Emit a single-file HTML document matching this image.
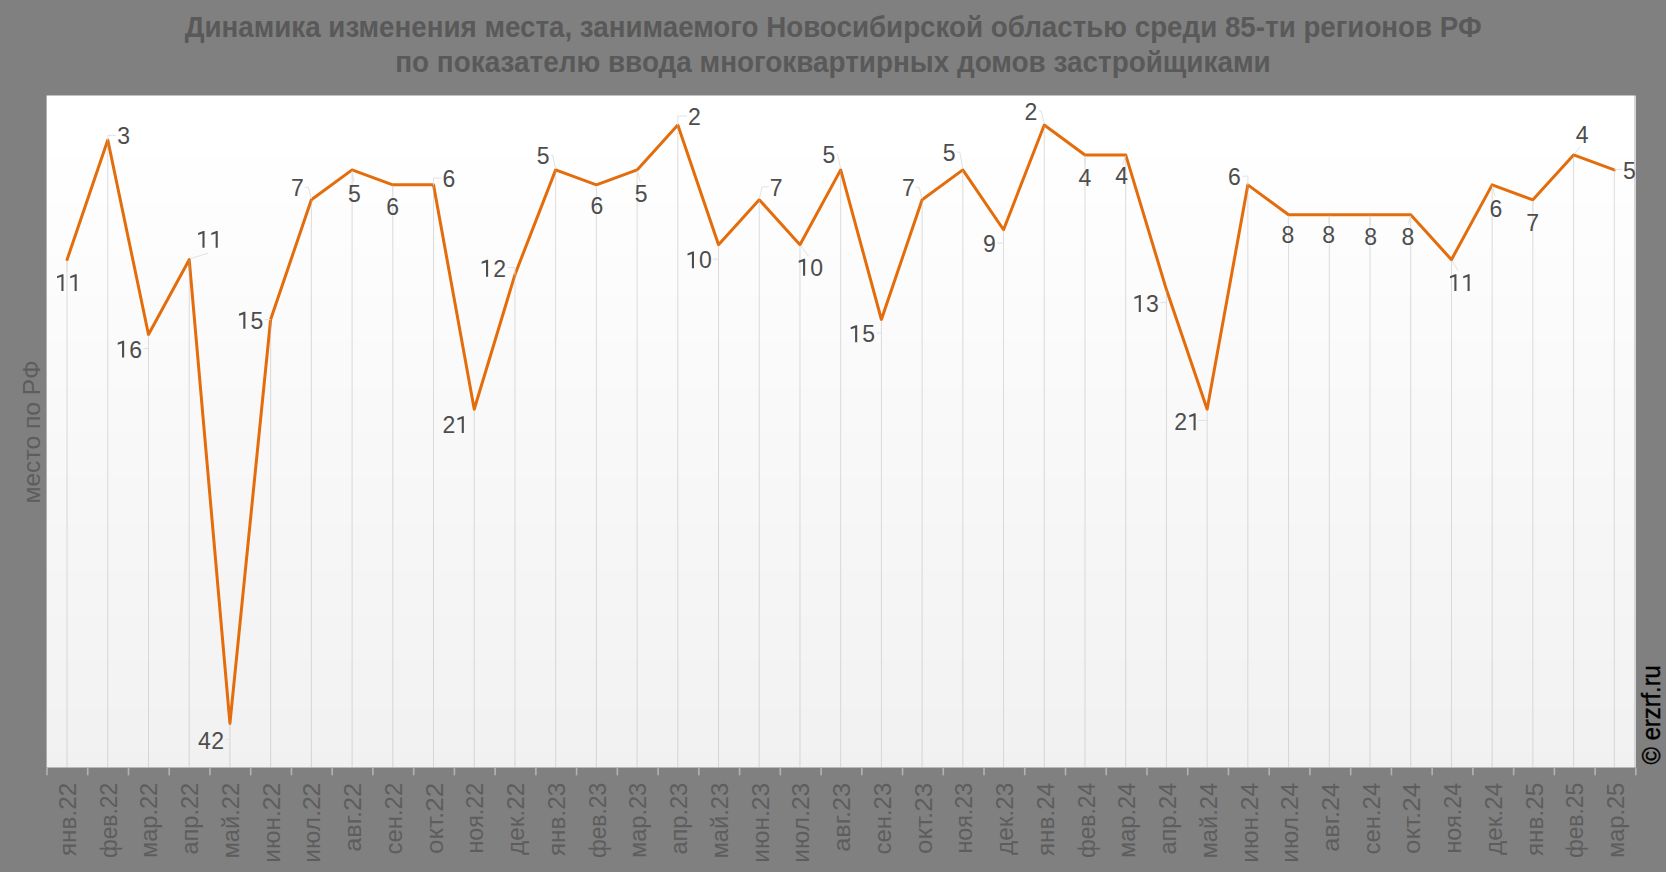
<!DOCTYPE html>
<html><head><meta charset="utf-8"><title>chart</title>
<style>
html,body{margin:0;padding:0;background:#808080;width:1666px;height:872px;overflow:hidden}
svg{display:block}
text{font-family:"Liberation Sans",sans-serif}
</style></head><body>
<svg width="1666" height="872" viewBox="0 0 1666 872">
<rect x="0" y="0" width="1666" height="872" fill="#808080"/>

<text x="833.2" y="37.1" font-size="28.8" font-weight="bold" fill="#595959" text-anchor="middle" textLength="1297" lengthAdjust="spacingAndGlyphs">Динамика изменения места, занимаемого Новосибирской областью среди 85-ти регионов РФ</text>
<text x="833.0" y="71.9" font-size="28.8" font-weight="bold" fill="#595959" text-anchor="middle" textLength="875.5" lengthAdjust="spacingAndGlyphs">по показателю ввода многоквартирных домов застройщиками</text>
<rect x="46.6" y="95.5" width="1587.40" height="61.5" fill="rgb(255,255,255)"/>
<rect x="46.6" y="157" width="1587.40" height="46" fill="rgb(254,254,254)"/>
<rect x="46.6" y="203" width="1587.40" height="46" fill="rgb(253,253,253)"/>
<rect x="46.6" y="249" width="1587.40" height="46" fill="rgb(252,252,252)"/>
<rect x="46.6" y="295" width="1587.40" height="46" fill="rgb(251,251,251)"/>
<rect x="46.6" y="341" width="1587.40" height="45" fill="rgb(250,250,250)"/>
<rect x="46.6" y="386" width="1587.40" height="46" fill="rgb(249,249,249)"/>
<rect x="46.6" y="432" width="1587.40" height="46" fill="rgb(248,248,248)"/>
<rect x="46.6" y="478" width="1587.40" height="46" fill="rgb(247,247,247)"/>
<rect x="46.6" y="524" width="1587.40" height="46" fill="rgb(246,246,246)"/>
<rect x="46.6" y="570" width="1587.40" height="45" fill="rgb(245,245,245)"/>
<rect x="46.6" y="615" width="1587.40" height="46" fill="rgb(244,244,244)"/>
<rect x="46.6" y="661" width="1587.40" height="46" fill="rgb(243,243,243)"/>
<rect x="46.6" y="707" width="1587.40" height="46" fill="rgb(242,242,242)"/>
<rect x="46.6" y="753" width="1587.40" height="14.5" fill="rgb(241,241,241)"/>
<rect x="1634.0" y="95.5" width="2" height="672.00" fill="#d6d6d6"/>
<polyline points="67.06,259.66 107.78,139.98 148.49,334.46 189.21,259.66 229.93,723.42 270.64,319.50 311.36,199.82 352.08,169.90 392.79,184.86 433.51,184.86 474.23,409.26 514.95,274.62 555.66,169.90 596.38,184.86 637.10,169.90 677.81,125.02 718.53,244.70 759.25,199.82 799.96,244.70 840.68,169.90 881.40,319.50 922.12,199.82 962.83,169.90 1003.55,229.74 1044.27,125.02 1084.98,154.94 1125.70,154.94 1166.42,289.58 1207.13,409.26 1247.85,184.86 1288.57,214.78 1329.29,214.78 1370.00,214.78 1410.72,214.78 1451.44,259.66 1492.15,184.86 1532.87,199.82 1573.59,154.94 1614.30,169.90" fill="none" stroke="#e46c0a" stroke-width="3" stroke-linejoin="round" stroke-linecap="round"/>
<line x1="67.06" y1="259.7" x2="67.06" y2="767.5" stroke="#b4b4b4" stroke-opacity="0.46" stroke-width="1"/>
<line x1="107.78" y1="140.0" x2="107.78" y2="767.5" stroke="#b4b4b4" stroke-opacity="0.46" stroke-width="1"/>
<line x1="148.49" y1="334.5" x2="148.49" y2="767.5" stroke="#b4b4b4" stroke-opacity="0.46" stroke-width="1"/>
<line x1="189.21" y1="259.7" x2="189.21" y2="767.5" stroke="#b4b4b4" stroke-opacity="0.46" stroke-width="1"/>
<line x1="229.93" y1="723.4" x2="229.93" y2="767.5" stroke="#b4b4b4" stroke-opacity="0.46" stroke-width="1"/>
<line x1="270.64" y1="319.5" x2="270.64" y2="767.5" stroke="#b4b4b4" stroke-opacity="0.46" stroke-width="1"/>
<line x1="311.36" y1="199.8" x2="311.36" y2="767.5" stroke="#b4b4b4" stroke-opacity="0.46" stroke-width="1"/>
<line x1="352.08" y1="169.9" x2="352.08" y2="767.5" stroke="#b4b4b4" stroke-opacity="0.46" stroke-width="1"/>
<line x1="392.79" y1="184.9" x2="392.79" y2="767.5" stroke="#b4b4b4" stroke-opacity="0.46" stroke-width="1"/>
<line x1="433.51" y1="184.9" x2="433.51" y2="767.5" stroke="#b4b4b4" stroke-opacity="0.46" stroke-width="1"/>
<line x1="474.23" y1="409.3" x2="474.23" y2="767.5" stroke="#b4b4b4" stroke-opacity="0.46" stroke-width="1"/>
<line x1="514.95" y1="274.6" x2="514.95" y2="767.5" stroke="#b4b4b4" stroke-opacity="0.46" stroke-width="1"/>
<line x1="555.66" y1="169.9" x2="555.66" y2="767.5" stroke="#b4b4b4" stroke-opacity="0.46" stroke-width="1"/>
<line x1="596.38" y1="184.9" x2="596.38" y2="767.5" stroke="#b4b4b4" stroke-opacity="0.46" stroke-width="1"/>
<line x1="637.10" y1="169.9" x2="637.10" y2="767.5" stroke="#b4b4b4" stroke-opacity="0.46" stroke-width="1"/>
<line x1="677.81" y1="125.0" x2="677.81" y2="767.5" stroke="#b4b4b4" stroke-opacity="0.46" stroke-width="1"/>
<line x1="718.53" y1="244.7" x2="718.53" y2="767.5" stroke="#b4b4b4" stroke-opacity="0.46" stroke-width="1"/>
<line x1="759.25" y1="199.8" x2="759.25" y2="767.5" stroke="#b4b4b4" stroke-opacity="0.46" stroke-width="1"/>
<line x1="799.96" y1="244.7" x2="799.96" y2="767.5" stroke="#b4b4b4" stroke-opacity="0.46" stroke-width="1"/>
<line x1="840.68" y1="169.9" x2="840.68" y2="767.5" stroke="#b4b4b4" stroke-opacity="0.46" stroke-width="1"/>
<line x1="881.40" y1="319.5" x2="881.40" y2="767.5" stroke="#b4b4b4" stroke-opacity="0.46" stroke-width="1"/>
<line x1="922.12" y1="199.8" x2="922.12" y2="767.5" stroke="#b4b4b4" stroke-opacity="0.46" stroke-width="1"/>
<line x1="962.83" y1="169.9" x2="962.83" y2="767.5" stroke="#b4b4b4" stroke-opacity="0.46" stroke-width="1"/>
<line x1="1003.55" y1="229.7" x2="1003.55" y2="767.5" stroke="#b4b4b4" stroke-opacity="0.46" stroke-width="1"/>
<line x1="1044.27" y1="125.0" x2="1044.27" y2="767.5" stroke="#b4b4b4" stroke-opacity="0.46" stroke-width="1"/>
<line x1="1084.98" y1="154.9" x2="1084.98" y2="767.5" stroke="#b4b4b4" stroke-opacity="0.46" stroke-width="1"/>
<line x1="1125.70" y1="154.9" x2="1125.70" y2="767.5" stroke="#b4b4b4" stroke-opacity="0.46" stroke-width="1"/>
<line x1="1166.42" y1="289.6" x2="1166.42" y2="767.5" stroke="#b4b4b4" stroke-opacity="0.46" stroke-width="1"/>
<line x1="1207.13" y1="409.3" x2="1207.13" y2="767.5" stroke="#b4b4b4" stroke-opacity="0.46" stroke-width="1"/>
<line x1="1247.85" y1="184.9" x2="1247.85" y2="767.5" stroke="#b4b4b4" stroke-opacity="0.46" stroke-width="1"/>
<line x1="1288.57" y1="214.8" x2="1288.57" y2="767.5" stroke="#b4b4b4" stroke-opacity="0.46" stroke-width="1"/>
<line x1="1329.29" y1="214.8" x2="1329.29" y2="767.5" stroke="#b4b4b4" stroke-opacity="0.46" stroke-width="1"/>
<line x1="1370.00" y1="214.8" x2="1370.00" y2="767.5" stroke="#b4b4b4" stroke-opacity="0.46" stroke-width="1"/>
<line x1="1410.72" y1="214.8" x2="1410.72" y2="767.5" stroke="#b4b4b4" stroke-opacity="0.46" stroke-width="1"/>
<line x1="1451.44" y1="259.7" x2="1451.44" y2="767.5" stroke="#b4b4b4" stroke-opacity="0.46" stroke-width="1"/>
<line x1="1492.15" y1="184.9" x2="1492.15" y2="767.5" stroke="#b4b4b4" stroke-opacity="0.46" stroke-width="1"/>
<line x1="1532.87" y1="199.8" x2="1532.87" y2="767.5" stroke="#b4b4b4" stroke-opacity="0.46" stroke-width="1"/>
<line x1="1573.59" y1="154.9" x2="1573.59" y2="767.5" stroke="#b4b4b4" stroke-opacity="0.46" stroke-width="1"/>
<line x1="1614.30" y1="169.9" x2="1614.30" y2="767.5" stroke="#b4b4b4" stroke-opacity="0.46" stroke-width="1"/>
<rect x="46.20" y="767.5" width="1.6" height="7.8" fill="#b2b2b2"/>
<rect x="86.94" y="767.5" width="1.6" height="7.8" fill="#b2b2b2"/>
<rect x="127.68" y="767.5" width="1.6" height="7.8" fill="#b2b2b2"/>
<rect x="168.42" y="767.5" width="1.6" height="7.8" fill="#b2b2b2"/>
<rect x="209.16" y="767.5" width="1.6" height="7.8" fill="#b2b2b2"/>
<rect x="249.90" y="767.5" width="1.6" height="7.8" fill="#b2b2b2"/>
<rect x="290.64" y="767.5" width="1.6" height="7.8" fill="#b2b2b2"/>
<rect x="331.38" y="767.5" width="1.6" height="7.8" fill="#b2b2b2"/>
<rect x="372.12" y="767.5" width="1.6" height="7.8" fill="#b2b2b2"/>
<rect x="412.86" y="767.5" width="1.6" height="7.8" fill="#b2b2b2"/>
<rect x="453.60" y="767.5" width="1.6" height="7.8" fill="#b2b2b2"/>
<rect x="494.34" y="767.5" width="1.6" height="7.8" fill="#b2b2b2"/>
<rect x="535.08" y="767.5" width="1.6" height="7.8" fill="#b2b2b2"/>
<rect x="575.82" y="767.5" width="1.6" height="7.8" fill="#b2b2b2"/>
<rect x="616.56" y="767.5" width="1.6" height="7.8" fill="#b2b2b2"/>
<rect x="657.30" y="767.5" width="1.6" height="7.8" fill="#b2b2b2"/>
<rect x="698.04" y="767.5" width="1.6" height="7.8" fill="#b2b2b2"/>
<rect x="738.78" y="767.5" width="1.6" height="7.8" fill="#b2b2b2"/>
<rect x="779.52" y="767.5" width="1.6" height="7.8" fill="#b2b2b2"/>
<rect x="820.26" y="767.5" width="1.6" height="7.8" fill="#b2b2b2"/>
<rect x="861.00" y="767.5" width="1.6" height="7.8" fill="#b2b2b2"/>
<rect x="901.74" y="767.5" width="1.6" height="7.8" fill="#b2b2b2"/>
<rect x="942.48" y="767.5" width="1.6" height="7.8" fill="#b2b2b2"/>
<rect x="983.22" y="767.5" width="1.6" height="7.8" fill="#b2b2b2"/>
<rect x="1023.96" y="767.5" width="1.6" height="7.8" fill="#b2b2b2"/>
<rect x="1064.70" y="767.5" width="1.6" height="7.8" fill="#b2b2b2"/>
<rect x="1105.44" y="767.5" width="1.6" height="7.8" fill="#b2b2b2"/>
<rect x="1146.18" y="767.5" width="1.6" height="7.8" fill="#b2b2b2"/>
<rect x="1186.92" y="767.5" width="1.6" height="7.8" fill="#b2b2b2"/>
<rect x="1227.66" y="767.5" width="1.6" height="7.8" fill="#b2b2b2"/>
<rect x="1268.40" y="767.5" width="1.6" height="7.8" fill="#b2b2b2"/>
<rect x="1309.14" y="767.5" width="1.6" height="7.8" fill="#b2b2b2"/>
<rect x="1349.88" y="767.5" width="1.6" height="7.8" fill="#b2b2b2"/>
<rect x="1390.62" y="767.5" width="1.6" height="7.8" fill="#b2b2b2"/>
<rect x="1431.36" y="767.5" width="1.6" height="7.8" fill="#b2b2b2"/>
<rect x="1472.10" y="767.5" width="1.6" height="7.8" fill="#b2b2b2"/>
<rect x="1512.84" y="767.5" width="1.6" height="7.8" fill="#b2b2b2"/>
<rect x="1553.58" y="767.5" width="1.6" height="7.8" fill="#b2b2b2"/>
<rect x="1594.32" y="767.5" width="1.6" height="7.8" fill="#b2b2b2"/>
<rect x="1635.06" y="767.5" width="1.6" height="7.8" fill="#b2b2b2"/>
<line x1="67.0" y1="261.2" x2="66.9" y2="270.5" stroke="#e2e2e2" stroke-width="1"/>
<line x1="107.8" y1="135.3" x2="115.8" y2="135.3" stroke="#e2e2e2" stroke-width="1"/>
<line x1="107.8" y1="140.0" x2="107.8" y2="135.3" stroke="#e2e2e2" stroke-width="1"/>
<line x1="148.5" y1="348.5" x2="143.7" y2="348.5" stroke="#e2e2e2" stroke-width="1"/>
<line x1="190.2" y1="258.7" x2="208" y2="253.2" stroke="#e2e2e2" stroke-width="1"/>
<line x1="229.9" y1="739.5" x2="225.7" y2="739.5" stroke="#e2e2e2" stroke-width="1"/>
<line x1="270.6" y1="319.6" x2="264.8" y2="319.6" stroke="#e2e2e2" stroke-width="1"/>
<polyline points="311.4,198.8 308.4,187.3 304.9,187.3" fill="none" stroke="#e2e2e2" stroke-width="1"/>
<line x1="352.3" y1="171.4" x2="353.9" y2="182.2" stroke="#e2e2e2" stroke-width="1"/>
<line x1="392.8" y1="186.4" x2="392.7" y2="195.1" stroke="#e2e2e2" stroke-width="1"/>
<line x1="433.5" y1="178.0" x2="441.4" y2="178.0" stroke="#e2e2e2" stroke-width="1"/>
<line x1="433.5" y1="184.9" x2="433.5" y2="178.0" stroke="#e2e2e2" stroke-width="1"/>
<line x1="514.9" y1="267.6" x2="507.5" y2="267.6" stroke="#e2e2e2" stroke-width="1"/>
<line x1="514.9" y1="274.6" x2="514.9" y2="267.6" stroke="#e2e2e2" stroke-width="1"/>
<polyline points="555.7,168.9 552.7,155.2 550.9,155.2" fill="none" stroke="#e2e2e2" stroke-width="1"/>
<line x1="596.4" y1="186.4" x2="596.8" y2="193.1" stroke="#e2e2e2" stroke-width="1"/>
<line x1="637.5" y1="171.3" x2="640.3" y2="181.9" stroke="#e2e2e2" stroke-width="1"/>
<line x1="677.8" y1="116.0" x2="686.9" y2="116.0" stroke="#e2e2e2" stroke-width="1"/>
<line x1="677.8" y1="125.0" x2="677.8" y2="116.0" stroke="#e2e2e2" stroke-width="1"/>
<line x1="718.5" y1="259.2" x2="712.9" y2="259.2" stroke="#e2e2e2" stroke-width="1"/>
<polyline points="759.2,198.8 762.2,186.9 768.8,186.9" fill="none" stroke="#e2e2e2" stroke-width="1"/>
<line x1="800.9" y1="245.9" x2="808.7" y2="256.3" stroke="#e2e2e2" stroke-width="1"/>
<polyline points="840.7,168.9 837.7,154.5 836.5,154.5" fill="none" stroke="#e2e2e2" stroke-width="1"/>
<line x1="881.4" y1="333.1" x2="876.6" y2="333.1" stroke="#e2e2e2" stroke-width="1"/>
<polyline points="922.1,198.8 919.1,187.3 915.8,187.3" fill="none" stroke="#e2e2e2" stroke-width="1"/>
<polyline points="962.8,168.9 959.8,152.2 956.9,152.2" fill="none" stroke="#e2e2e2" stroke-width="1"/>
<line x1="1003.5" y1="243.1" x2="997.0" y2="243.1" stroke="#e2e2e2" stroke-width="1"/>
<polyline points="1044.3,124.0 1041.3,111.0 1038.8,111.0" fill="none" stroke="#e2e2e2" stroke-width="1"/>
<line x1="1085.0" y1="156.4" x2="1085.0" y2="165.8" stroke="#e2e2e2" stroke-width="1"/>
<line x1="1125.3" y1="156.4" x2="1122.6" y2="165.0" stroke="#e2e2e2" stroke-width="1"/>
<line x1="1166.4" y1="302.6" x2="1160.2" y2="302.6" stroke="#e2e2e2" stroke-width="1"/>
<line x1="1207.1" y1="420.5" x2="1198.3" y2="420.5" stroke="#e2e2e2" stroke-width="1"/>
<line x1="1247.9" y1="176.2" x2="1242.4" y2="176.2" stroke="#e2e2e2" stroke-width="1"/>
<line x1="1247.9" y1="184.9" x2="1247.9" y2="176.2" stroke="#e2e2e2" stroke-width="1"/>
<line x1="1288.5" y1="216.3" x2="1288.0" y2="223.1" stroke="#e2e2e2" stroke-width="1"/>
<line x1="1329.2" y1="216.3" x2="1328.9" y2="223.1" stroke="#e2e2e2" stroke-width="1"/>
<line x1="1370.1" y1="216.3" x2="1370.4" y2="224.5" stroke="#e2e2e2" stroke-width="1"/>
<line x1="1410.4" y1="216.2" x2="1408.5" y2="224.6" stroke="#e2e2e2" stroke-width="1"/>
<line x1="1452.2" y1="260.9" x2="1458.2" y2="270.9" stroke="#e2e2e2" stroke-width="1"/>
<line x1="1492.5" y1="186.3" x2="1495.1" y2="196.6" stroke="#e2e2e2" stroke-width="1"/>
<line x1="1532.9" y1="201.3" x2="1532.7" y2="210.8" stroke="#e2e2e2" stroke-width="1"/>
<line x1="1574.5" y1="153.8" x2="1580.3" y2="146.7" stroke="#e2e2e2" stroke-width="1"/>
<line x1="1614.3" y1="169.4" x2="1622.1" y2="169.4" stroke="#e2e2e2" stroke-width="1"/>
<g font-size="23" fill="#4d4d4d">
<path d="M61.40,291.10L63.50,291.10L63.50,274.20L62.15,274.20L57.05,276.20L57.05,278.20L61.40,276.80ZM74.60,291.10L76.70,291.10L76.70,274.20L75.35,274.20L70.25,276.20L70.25,278.20L74.60,276.80Z"/>
<text x="123.70" y="144.40" text-anchor="middle">3</text>
<text x="135.60" y="357.60" text-anchor="middle">6</text><path d="M122.05,357.60L124.15,357.60L124.15,340.70L122.80,340.70L117.70,342.70L117.70,344.70L122.05,343.30Z"/>
<path d="M202.45,247.80L204.55,247.80L204.55,230.90L203.20,230.90L198.10,232.90L198.10,234.90L202.45,233.50ZM215.65,247.80L217.75,247.80L217.75,230.90L216.40,230.90L211.30,232.90L211.30,234.90L215.65,233.50Z"/>
<text x="204.45" y="749.10" text-anchor="middle">4</text><text x="217.65" y="749.10" text-anchor="middle">2</text>
<text x="256.85" y="328.70" text-anchor="middle">5</text><path d="M243.30,328.70L245.40,328.70L245.40,311.80L244.05,311.80L238.95,313.80L238.95,315.80L243.30,314.40Z"/>
<text x="297.30" y="196.40" text-anchor="middle">7</text>
<text x="354.30" y="202.20" text-anchor="middle">5</text>
<text x="392.65" y="215.10" text-anchor="middle">6</text>
<text x="448.85" y="186.80" text-anchor="middle">6</text>
<text x="448.90" y="433.10" text-anchor="middle">2</text><path d="M461.75,433.10L463.85,433.10L463.85,416.20L462.50,416.20L457.40,418.20L457.40,420.20L461.75,418.80Z"/>
<text x="499.55" y="276.70" text-anchor="middle">2</text><path d="M486.00,276.70L488.10,276.70L488.10,259.80L486.75,259.80L481.65,261.80L481.65,263.80L486.00,262.40Z"/>
<text x="543.25" y="164.30" text-anchor="middle">5</text>
<text x="596.90" y="213.70" text-anchor="middle">6</text>
<text x="641.10" y="201.90" text-anchor="middle">5</text>
<text x="694.35" y="124.80" text-anchor="middle">2</text>
<text x="705.45" y="268.30" text-anchor="middle">0</text><path d="M691.90,268.30L694.00,268.30L694.00,251.40L692.65,251.40L687.55,253.40L687.55,255.40L691.90,254.00Z"/>
<text x="776.25" y="196.10" text-anchor="middle">7</text>
<text x="816.60" y="275.70" text-anchor="middle">0</text><path d="M803.05,275.70L805.15,275.70L805.15,258.80L803.80,258.80L798.70,260.80L798.70,262.80L803.05,261.40Z"/>
<text x="828.85" y="163.30" text-anchor="middle">5</text>
<text x="868.65" y="342.20" text-anchor="middle">5</text><path d="M855.10,342.20L857.20,342.20L857.20,325.30L855.85,325.30L850.75,327.30L850.75,329.30L855.10,327.90Z"/>
<text x="908.35" y="196.10" text-anchor="middle">7</text>
<text x="949.25" y="161.40" text-anchor="middle">5</text>
<text x="989.40" y="252.30" text-anchor="middle">9</text>
<text x="1030.85" y="119.60" text-anchor="middle">2</text>
<text x="1084.95" y="185.80" text-anchor="middle">4</text>
<text x="1121.70" y="184.40" text-anchor="middle">4</text>
<text x="1152.30" y="311.90" text-anchor="middle">3</text><path d="M1138.75,311.90L1140.85,311.90L1140.85,295.00L1139.50,295.00L1134.40,297.00L1134.40,299.00L1138.75,297.60Z"/>
<text x="1180.70" y="430.20" text-anchor="middle">2</text><path d="M1193.55,430.20L1195.65,430.20L1195.65,413.30L1194.30,413.30L1189.20,415.30L1189.20,417.30L1193.55,415.90Z"/>
<text x="1234.40" y="185.10" text-anchor="middle">6</text>
<text x="1287.80" y="243.30" text-anchor="middle">8</text>
<text x="1328.70" y="243.30" text-anchor="middle">8</text>
<text x="1370.55" y="244.80" text-anchor="middle">8</text>
<text x="1407.90" y="244.80" text-anchor="middle">8</text>
<path d="M1454.35,291.10L1456.45,291.10L1456.45,274.20L1455.10,274.20L1450.00,276.20L1450.00,278.20L1454.35,276.80ZM1467.55,291.10L1469.65,291.10L1469.65,274.20L1468.30,274.20L1463.20,276.20L1463.20,278.20L1467.55,276.80Z"/>
<text x="1495.80" y="216.70" text-anchor="middle">6</text>
<text x="1532.70" y="231.10" text-anchor="middle">7</text>
<text x="1582.15" y="143.00" text-anchor="middle">4</text>
<text x="1629.40" y="178.80" text-anchor="middle">5</text>
</g>
<text transform="translate(75.90,782.8) rotate(-90)" font-size="23.3" fill="#5d5d5d" text-anchor="end" textLength="73.3" lengthAdjust="spacingAndGlyphs">янв.22</text>
<text transform="translate(116.65,782.8) rotate(-90)" font-size="23.3" fill="#5d5d5d" text-anchor="end" textLength="75.3" lengthAdjust="spacingAndGlyphs">фев.22</text>
<text transform="translate(157.39,782.8) rotate(-90)" font-size="23.3" fill="#5d5d5d" text-anchor="end" textLength="75.3" lengthAdjust="spacingAndGlyphs">мар.22</text>
<text transform="translate(198.13,782.8) rotate(-90)" font-size="23.3" fill="#5d5d5d" text-anchor="end" textLength="71.8" lengthAdjust="spacingAndGlyphs">апр.22</text>
<text transform="translate(238.88,782.8) rotate(-90)" font-size="23.3" fill="#5d5d5d" text-anchor="end" textLength="75.8" lengthAdjust="spacingAndGlyphs">май.22</text>
<text transform="translate(279.62,782.8) rotate(-90)" font-size="23.3" fill="#5d5d5d" text-anchor="end" textLength="79.9" lengthAdjust="spacingAndGlyphs">июн.22</text>
<text transform="translate(320.37,782.8) rotate(-90)" font-size="23.3" fill="#5d5d5d" text-anchor="end" textLength="79.9" lengthAdjust="spacingAndGlyphs">июл.22</text>
<text transform="translate(361.12,782.8) rotate(-90)" font-size="23.3" fill="#5d5d5d" text-anchor="end" textLength="69.0" lengthAdjust="spacingAndGlyphs">авг.22</text>
<text transform="translate(401.86,782.8) rotate(-90)" font-size="23.3" fill="#5d5d5d" text-anchor="end" textLength="71.8" lengthAdjust="spacingAndGlyphs">сен.22</text>
<text transform="translate(442.61,782.8) rotate(-90)" font-size="23.3" fill="#5d5d5d" text-anchor="end" textLength="71.2" lengthAdjust="spacingAndGlyphs">окт.22</text>
<text transform="translate(483.35,782.8) rotate(-90)" font-size="23.3" fill="#5d5d5d" text-anchor="end" textLength="70.8" lengthAdjust="spacingAndGlyphs">ноя.22</text>
<text transform="translate(524.10,782.8) rotate(-90)" font-size="23.3" fill="#5d5d5d" text-anchor="end" textLength="72.1" lengthAdjust="spacingAndGlyphs">дек.22</text>
<text transform="translate(564.84,782.8) rotate(-90)" font-size="23.3" fill="#5d5d5d" text-anchor="end" textLength="73.3" lengthAdjust="spacingAndGlyphs">янв.23</text>
<text transform="translate(605.58,782.8) rotate(-90)" font-size="23.3" fill="#5d5d5d" text-anchor="end" textLength="75.3" lengthAdjust="spacingAndGlyphs">фев.23</text>
<text transform="translate(646.33,782.8) rotate(-90)" font-size="23.3" fill="#5d5d5d" text-anchor="end" textLength="75.3" lengthAdjust="spacingAndGlyphs">мар.23</text>
<text transform="translate(687.07,782.8) rotate(-90)" font-size="23.3" fill="#5d5d5d" text-anchor="end" textLength="71.8" lengthAdjust="spacingAndGlyphs">апр.23</text>
<text transform="translate(727.82,782.8) rotate(-90)" font-size="23.3" fill="#5d5d5d" text-anchor="end" textLength="75.8" lengthAdjust="spacingAndGlyphs">май.23</text>
<text transform="translate(768.56,782.8) rotate(-90)" font-size="23.3" fill="#5d5d5d" text-anchor="end" textLength="79.9" lengthAdjust="spacingAndGlyphs">июн.23</text>
<text transform="translate(809.31,782.8) rotate(-90)" font-size="23.3" fill="#5d5d5d" text-anchor="end" textLength="79.9" lengthAdjust="spacingAndGlyphs">июл.23</text>
<text transform="translate(850.05,782.8) rotate(-90)" font-size="23.3" fill="#5d5d5d" text-anchor="end" textLength="69.0" lengthAdjust="spacingAndGlyphs">авг.23</text>
<text transform="translate(890.80,782.8) rotate(-90)" font-size="23.3" fill="#5d5d5d" text-anchor="end" textLength="71.8" lengthAdjust="spacingAndGlyphs">сен.23</text>
<text transform="translate(931.54,782.8) rotate(-90)" font-size="23.3" fill="#5d5d5d" text-anchor="end" textLength="71.2" lengthAdjust="spacingAndGlyphs">окт.23</text>
<text transform="translate(972.29,782.8) rotate(-90)" font-size="23.3" fill="#5d5d5d" text-anchor="end" textLength="70.8" lengthAdjust="spacingAndGlyphs">ноя.23</text>
<text transform="translate(1013.03,782.8) rotate(-90)" font-size="23.3" fill="#5d5d5d" text-anchor="end" textLength="72.1" lengthAdjust="spacingAndGlyphs">дек.23</text>
<text transform="translate(1053.78,782.8) rotate(-90)" font-size="23.3" fill="#5d5d5d" text-anchor="end" textLength="73.3" lengthAdjust="spacingAndGlyphs">янв.24</text>
<text transform="translate(1094.52,782.8) rotate(-90)" font-size="23.3" fill="#5d5d5d" text-anchor="end" textLength="75.3" lengthAdjust="spacingAndGlyphs">фев.24</text>
<text transform="translate(1135.27,782.8) rotate(-90)" font-size="23.3" fill="#5d5d5d" text-anchor="end" textLength="75.3" lengthAdjust="spacingAndGlyphs">мар.24</text>
<text transform="translate(1176.02,782.8) rotate(-90)" font-size="23.3" fill="#5d5d5d" text-anchor="end" textLength="71.8" lengthAdjust="spacingAndGlyphs">апр.24</text>
<text transform="translate(1216.76,782.8) rotate(-90)" font-size="23.3" fill="#5d5d5d" text-anchor="end" textLength="75.8" lengthAdjust="spacingAndGlyphs">май.24</text>
<text transform="translate(1257.51,782.8) rotate(-90)" font-size="23.3" fill="#5d5d5d" text-anchor="end" textLength="79.9" lengthAdjust="spacingAndGlyphs">июн.24</text>
<text transform="translate(1298.25,782.8) rotate(-90)" font-size="23.3" fill="#5d5d5d" text-anchor="end" textLength="79.9" lengthAdjust="spacingAndGlyphs">июл.24</text>
<text transform="translate(1339.00,782.8) rotate(-90)" font-size="23.3" fill="#5d5d5d" text-anchor="end" textLength="69.0" lengthAdjust="spacingAndGlyphs">авг.24</text>
<text transform="translate(1379.74,782.8) rotate(-90)" font-size="23.3" fill="#5d5d5d" text-anchor="end" textLength="71.8" lengthAdjust="spacingAndGlyphs">сен.24</text>
<text transform="translate(1420.48,782.8) rotate(-90)" font-size="23.3" fill="#5d5d5d" text-anchor="end" textLength="71.2" lengthAdjust="spacingAndGlyphs">окт.24</text>
<text transform="translate(1461.23,782.8) rotate(-90)" font-size="23.3" fill="#5d5d5d" text-anchor="end" textLength="70.8" lengthAdjust="spacingAndGlyphs">ноя.24</text>
<text transform="translate(1501.97,782.8) rotate(-90)" font-size="23.3" fill="#5d5d5d" text-anchor="end" textLength="72.1" lengthAdjust="spacingAndGlyphs">дек.24</text>
<text transform="translate(1542.72,782.8) rotate(-90)" font-size="23.3" fill="#5d5d5d" text-anchor="end" textLength="73.3" lengthAdjust="spacingAndGlyphs">янв.25</text>
<text transform="translate(1583.46,782.8) rotate(-90)" font-size="23.3" fill="#5d5d5d" text-anchor="end" textLength="75.3" lengthAdjust="spacingAndGlyphs">фев.25</text>
<text transform="translate(1624.21,782.8) rotate(-90)" font-size="23.3" fill="#5d5d5d" text-anchor="end" textLength="75.3" lengthAdjust="spacingAndGlyphs">мар.25</text>
<text transform="translate(39.8,431.9) rotate(-90)" font-size="24.3" fill="#5d5d5d" text-anchor="middle" textLength="143.3" lengthAdjust="spacingAndGlyphs">место по РФ</text>
<text transform="translate(1660.4,665.2) rotate(-90)" font-size="26.5" fill="#000" stroke="#000" stroke-width="0.45" text-anchor="end" textLength="99.2" lengthAdjust="spacingAndGlyphs">© erzrf.ru</text>
</svg></body></html>
